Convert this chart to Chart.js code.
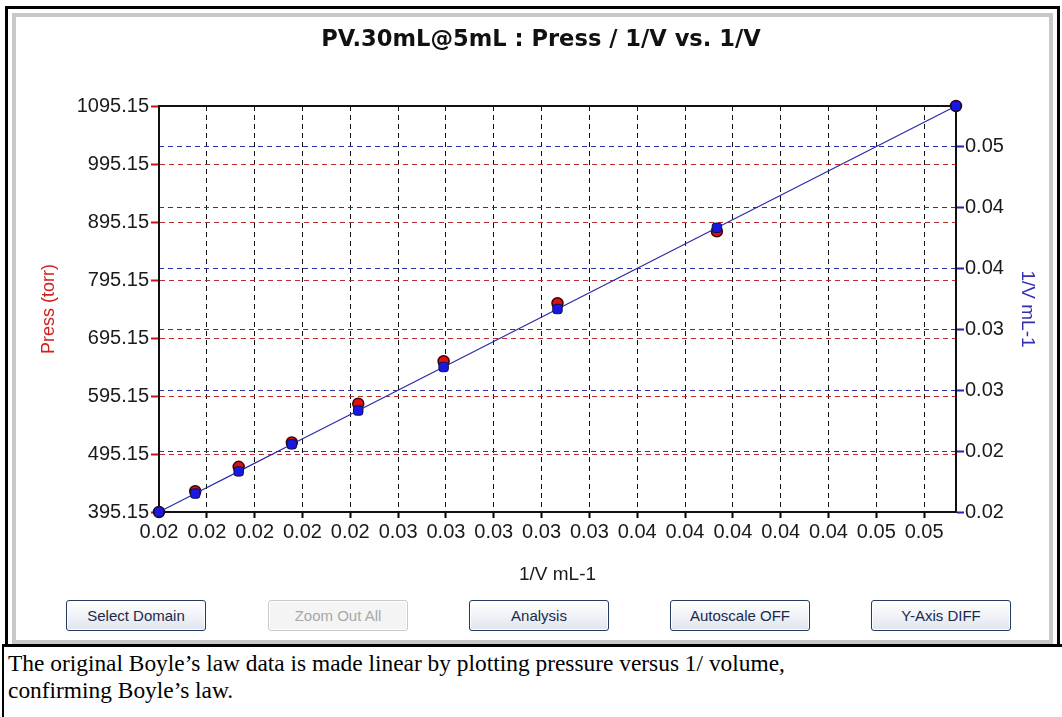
<!DOCTYPE html>
<html><head><meta charset="utf-8">
<script src="https://cdn.jsdelivr.net/npm/chart.js@4.4.1/dist/chart.umd.min.js"></script>
<style>
html,body{margin:0;padding:0;background:#fff;width:1062px;height:717px;overflow:hidden;}
div{box-sizing:border-box;}
#outer{position:absolute;left:5px;top:6px;width:1055px;height:641px;border:3px solid #000;}
#gray{position:absolute;left:12px;top:13px;width:1041px;height:631px;border:4px solid #c8c8c8;}
#capbox{position:absolute;left:2px;top:644px;width:1060px;height:73px;border-left:2px solid #000;border-top:3px solid #000;}
#caption{position:absolute;left:8px;top:650px;font-family:"Liberation Serif","Times New Roman",serif;font-size:23.4px;line-height:27px;color:#000;white-space:nowrap;}
.btn{position:absolute;top:600px;width:140px;height:31px;border:1px solid #25395e;border-radius:3px;
 background:linear-gradient(#ffffff,#f2f4f8 45%,#dfe4ee);font-family:"Liberation Sans",Arial,sans-serif;font-size:15px;
 color:#1a2b4a;display:flex;align-items:center;justify-content:center;box-shadow:inset 0 0 0 1px #fff;}
.btn.dis{border-color:#c9c9c9;color:#a8a8a8;background:#f4f4f4;}
#c{position:absolute;left:0;top:0;}
</style></head>
<body>
<div id="outer"></div>
<div id="gray"></div>
<div id="capbox"></div>
<div class="btn" style="left:66px">Select Domain</div>
<div class="btn dis" style="left:268px">Zoom Out All</div>
<div class="btn" style="left:469px">Analysis</div>
<div class="btn" style="left:670px">Autoscale OFF</div>
<div class="btn" style="left:871px">Y-Axis DIFF</div>
<div id="caption">The original Boyle’s law data is made linear by plotting pressure versus 1/ volume,<br>confirming Boyle’s law.</div>
<canvas id="c" width="1062" height="590"></canvas>
<script>
// ---- data ----
const invVolume = [0.016667, 0.018182, 0.020000, 0.022222, 0.025000, 0.028571, 0.033333, 0.040000, 0.050000];
const pressure  = [395.15, 431.0, 473.0, 515.0, 582.0, 655.0, 755.0, 879.0, 1095.15];
const xTicks = [0.016667,0.018667,0.020667,0.022667,0.024667,0.026667,0.028667,0.030667,0.032667,0.034667,0.036667,0.038667,0.040667,0.042667,0.044667,0.046667,0.048667];
const pressTicks = [395.15,495.15,595.15,695.15,795.15,895.15,995.15,1095.15];
const invTicks = [0.016667,0.021667,0.026667,0.031667,0.036667,0.041667,0.046667];
const titleText = 'PV.30mL@5mL : Press / 1/V vs. 1/V';
const xTitle = '1/V mL-1';
const yTitle = 'Press (torr)';
const y2Title = '1/V mL-1';

const F = '"Liberation Sans", Arial, sans-serif';
const setTicks = arr => s => { s.ticks = arr.map(v => ({value: v})); };
const TS = 22.6, TLH = TS * 1.2, TTOP = 40 - TLH / 2;

const frame = {
  id: 'frame',
  beforeDatasetsDraw(chart) {
    const a = chart.chartArea, ctx = chart.ctx;
    ctx.save(); ctx.strokeStyle = '#111'; ctx.lineWidth = 2;
    ctx.beginPath(); ctx.moveTo(a.left, a.top); ctx.lineTo(a.right, a.top); ctx.stroke();
    ctx.restore();
  }
};

new Chart(document.getElementById('c'), {
  type: 'scatter',
  data: {
    datasets: [
      { label: '1/V', data: invVolume.map(v => ({x: v, y: v})), xAxisID: 'x', yAxisID: 'y2',
        showLine: true, borderColor: '#2a2aa8', borderWidth: 1.2, pointStyle: 'rectRounded',
        pointRadius: 5.5, pointBackgroundColor: '#1818e0', pointBorderColor: '#101050', pointBorderWidth: 1, order: 1, clip: false },
      { label: 'Press', data: invVolume.map((v, i) => ({x: v, y: pressure[i]})), xAxisID: 'x', yAxisID: 'y',
        showLine: false, pointStyle: 'circle', pointRadius: 5.5, pointBackgroundColor: '#e01010',
        pointBorderColor: '#400000', pointBorderWidth: 1.5, order: 2, clip: false }
    ]
  },
  options: {
    responsive: false, animation: false, devicePixelRatio: 1,
    layout: { padding: { left: 20, right: 0, top: 0, bottom: 0 } },
    plugins: {
      legend: { display: false }, tooltip: { enabled: false },
      title: { display: true, text: titleText, color: '#111', font: { family: '"DejaVu Sans", sans-serif', size: TS, weight: 'bold' },
               padding: { top: TTOP, bottom: 106 - TTOP - TLH } }
    },
    scales: {
      x: { type: 'linear', position: 'bottom', min: invVolume[0], max: invVolume[invVolume.length - 1],
           afterBuildTicks: setTicks(xTicks), afterFit: s => { s.height = 590 - 512; },
           grid: { color: '#111', lineWidth: 1, tickColor: '#000', tickWidth: 2, tickLength: 6, tickBorderDash: [] },
           border: { display: true, color: '#111', width: 2, dash: [5, 4] },
           ticks: { color: '#1a1a1a', font: { family: F, size: 20 }, padding: 2, maxRotation: 0, autoSkip: false,
                    callback: v => v.toFixed(2) },
           title: { display: true, text: xTitle, color: '#1a1a1a', font: { family: F, size: 19 }, padding: { top: 9 } } },
      y: { type: 'linear', position: 'left', min: pressTicks[0], max: pressTicks[pressTicks.length - 1],
           afterBuildTicks: setTicks(pressTicks), afterFit: s => { s.width = 159 - 20; },
           grid: { color: '#b83030', lineWidth: 1, tickColor: '#d01010', tickWidth: 2, tickLength: 8, tickBorderDash: [] },
           border: { display: true, color: '#111', width: 2, dash: [5, 4] },
           ticks: { color: '#1a1a1a', font: { family: F, size: 20 }, padding: 2, autoSkip: false,
                    callback: v => v.toFixed(2) },
           title: { display: true, text: yTitle, color: '#d02020', font: { family: F, size: 18 }, padding: { top: 18 } } },
      y2: { type: 'linear', position: 'right', min: invVolume[0], max: invVolume[invVolume.length - 1],
           afterBuildTicks: setTicks(invTicks), afterFit: s => { s.width = 1062 - 956; },
           grid: { color: '#3030a8', lineWidth: 1, tickColor: '#2020c0', tickWidth: 2, tickLength: 8, tickBorderDash: [] },
           border: { display: true, color: '#111', width: 2, dash: [5, 4] },
           ticks: { color: '#1a1a1a', font: { family: F, size: 20 }, padding: 1, autoSkip: false,
                    callback: v => v.toFixed(2) },
           title: { display: true, text: y2Title, color: '#3030b0', font: { family: F, size: 19 }, padding: { top: 23 } } }
    }
  },
  plugins: [frame]
});
</script>
</body></html>
